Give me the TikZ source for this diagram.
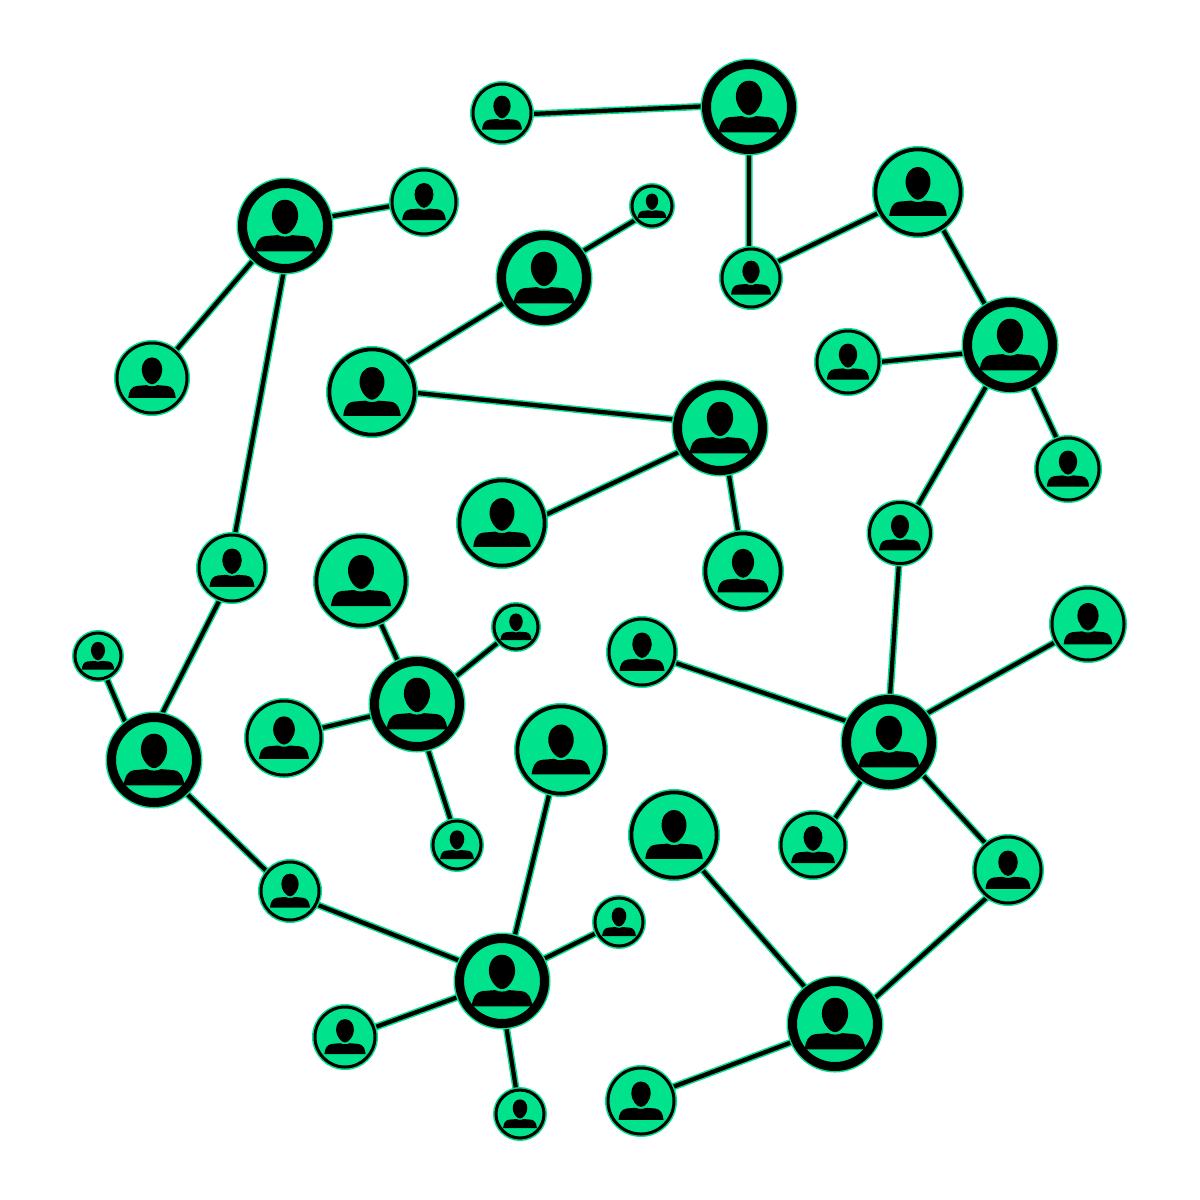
\documentclass[tikz,border=0pt]{standalone}
\usetikzlibrary{backgrounds}

\definecolor{personGreen}{HTML}{00E38C}

\tikzset{
  person/.style={circle, draw=personGreen, fill=personGreen, inner sep=0pt, outer sep=0pt, line width=.015cm},
  hubnode/.style={person, double=black, double distance=.09cm},
  midnode/.style={person, double=black, double distance=.038cm},
  leafnode/.style={person, double=black, double distance=.03cm},
  link/.style={draw=personGreen, line width=.015cm, double=black, double distance=.042cm},
  personicon/.pic={
    \fill (0,-26) .. controls (-8,-26) and (-13,-19) .. (-13,-10)
      .. controls (-13,-2) and (-6,8) .. (0,8)
      .. controls (6,8) and (13,-2) .. (13,-10)
      .. controls (13,-19) and (8,-26) .. (0,-26) -- cycle;
    \fill (-30,25) .. controls (-29,17) and (-27,11) .. (-19,10)
      -- (-7,9) .. controls (-3,11) and (3,11) .. (7,9)
      -- (19,10) .. controls (27,11) and (29,17) .. (30,25) -- cycle;
  }
}

\begin{document}
\begin{tikzpicture}[x=.01cm, y=-.01cm]
  \useasboundingbox (0,0) rectangle (1200,1200);

  % Nodos grandes
  \foreach \n/\px/\py/\r in {hub1/749/107/48.5, hub2/285/226/48.5, hub3/544/278/48.5, hub4/1010/345/48.5,
    hub5/720/428/48.5, hub6/417/704/48.5, hub7/154/760/48.5, hub8/889/742/48.5, hub9/502/981/48.5, hub10/835/1024/48.5} {
    \node[hubnode, minimum size={(2*\r-12)*.01cm}] (\n) at (\px,\py) {};
    \pic[scale=\r/48] at (\n) {personicon};
  }

  % Nodos medianos
  \foreach \n/\px/\py/\r in {mid1/918/192/46, mid2/372/392/46, mid3/502/523/46, mid4/743/571/41,
    mid5/361/581/48, mid6/561/750/47, mid7/674/835/46} {
    \node[midnode, minimum size={(2*\r-6.8)*.01cm}] (\n) at (\px,\py) {};
    \pic[scale=\r/48] at (\n) {personicon};
  }

  % Nodos chicos
  \foreach \n/\px/\py/\r in {leaf1/502/113/32, leaf2/424/202/35, leaf3/652/206/23, leaf4/751/278/32,
    leaf5/152/378/38, leaf6/848/362/34, leaf7/1068/469/34, leaf8/900/533/33.5, leaf9/232/568/36,
    leaf10/642/652/36, leaf11/1088/624/39, leaf12/98/656/26, leaf13/516/627/25, leaf14/284/738/40,
    leaf15/457/845/27, leaf16/813/845/35, leaf17/1008/870/36, leaf18/290/891/32, leaf19/619/922/27,
    leaf20/345/1037/33, leaf21/520/1114/27, leaf22/641/1101/36} {
    \node[leafnode, minimum size={(2*\r-6)*.01cm}] (\n) at (\px,\py) {};
    \pic[scale=\r/48] at (\n) {personicon};
  }

  % Enlaces
  \begin{scope}[on background layer]
    \foreach \a/\aa/\b/\ba in {leaf1/-2/hub1/179, hub1/270/leaf4/94, leaf4/32/mid1/208, mid1/-56/hub4/122,
      hub4/191/leaf6/0, hub4/-61/leaf7/110, hub4/240/leaf8/57, leaf8/268/hub8/89,
      hub8/38/leaf11/209, hub8/153/leaf10/-18, hub8/234/leaf16/50, hub8/-44/leaf17/130,
      leaf17/233/hub10/32, hub10/129/mid7/-51, hub10/203/leaf22/24,
      leaf2/187/hub2/12, hub2/227/leaf5/49, hub2/269/leaf9/85, leaf9/249/hub7/82, hub7/129/leaf12/-69,
      hub7/-46/leaf18/140, leaf18/-27/hub9/154, hub9/74/mid6/255, hub9/28/leaf19/206, hub9/200/leaf20/18,
      hub9/-85/leaf21/99, hub3/35/leaf3/221, hub3/212/mid2/41, mid2/-1/hub5/169, hub5/211/mid3/10,
      hub5/-79/mid4/97, hub6/114/mid5/-65, hub6/35/leaf13/221, hub6/195/leaf14/15, hub6/-77/leaf15/104} {
      \draw[link] (\a.\aa) -- (\b.\ba);
    }
  \end{scope}
\end{tikzpicture}
\end{document}
